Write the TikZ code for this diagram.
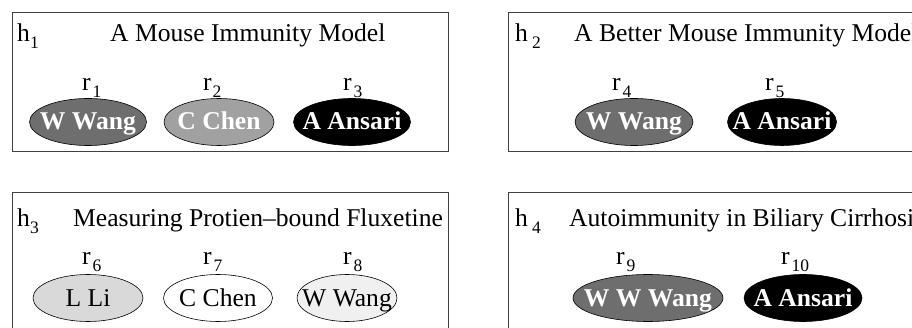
\documentclass[tikz,border=0pt]{standalone}
\usepackage{fontspec}
\setmainfont{Liberation Serif}
\usetikzlibrary{shapes.geometric}

\definecolor{dkgray}{gray}{0.43}
\definecolor{mdgray}{gray}{0.63}
\definecolor{ltgray}{gray}{0.85}
\definecolor{xltgray}{gray}{0.94}

% lowered index in the text font
\newcommand{\idx}[2][0pt]{\kern#1\raisebox{-0.24em}{\fontsize{17.5}{18}\selectfont #2}}

\begin{document}
\begin{tikzpicture}[x=1pt, y=-1pt, font=\fontsize{25.6}{30}\selectfont,
    hbox/.style={draw=black!75, line width=0.8pt},
    tag/.style={anchor=base west, inner sep=0pt},
    author/.style={ellipse, draw=black, line width=0.6pt, minimum height=47pt, inner sep=0pt},
    wname/.style={anchor=base, inner sep=0pt, text=white, font=\fontsize{25.6}{30}\selectfont\bfseries},
    bname/.style={anchor=base, inner sep=0pt, text=black}]
  \clip (0,0) rectangle (912,328);
  \fill[white] (0,0) rectangle (912,328);

  % the four boxes
  \draw[hbox] (12,12) rectangle (448,151);
  \draw[hbox] (508,12) rectangle (940,151);
  \draw[hbox] (12,192) rectangle (448,340);
  \draw[hbox] (508,192) rectangle (940,340);

  % h1
  \node[tag] (h1) at (17,42) {h\idx{1}};
  \node[tag] (t1) at (110,42) {A Mouse Immunity Model};
  \node[tag] (r1) at (82,91) {r\idx[2pt]{1}};
  \node[tag] (r2) at (203,91) {r\idx[1pt]{2}};
  \node[tag] (r3) at (343,91) {r\idx[2pt]{3}};
  \node[author, fill=dkgray, minimum width=117pt] (a1) at (88,122) {};
  \node[author, fill=mdgray, minimum width=110pt] (a2) at (219,122) {};
  \node[author, fill=black, minimum width=117pt] (a3) at (352,122) {};
  \node[wname] (n1) at ([yshift=-8pt]a1.center) {W Wang};
  \node[wname] (n2) at ([yshift=-8pt]a2.center) {C Chen};
  \node[wname] (n3) at ([yshift=-8pt]a3.center) {A Ansari};

  % h2
  \node[tag] (h2) at (515,42) {h\idx[4pt]{2}};
  \node[tag] (t2) at (574,42) {A Better Mouse Immunity Model};
  \node[tag] (r4) at (612,91) {r\idx[2pt]{4}};
  \node[tag] (r5) at (765,91) {r\idx[2pt]{5}};
  \node[author, fill=dkgray, minimum width=118pt] (a4) at (634,122) {};
  \node[author, fill=black, minimum width=109pt] (a5) at (782,122) {};
  \node[wname] (n4) at ([yshift=-8pt]a4.center) {W Wang};
  \node[wname] (n5) at ([yshift=-8pt]a5.center) {A Ansari};

  % h3
  \node[tag] (h3) at (17,227) {h\idx{3}};
  \node[tag] (t3) at (73,227) {Measuring Protien--bound Fluxetine};
  \node[tag] (r6) at (82,265) {r\idx[2pt]{6}};
  \node[tag] (r7) at (203,265) {r\idx[2pt]{7}};
  \node[tag] (r8) at (343,265) {r\idx[2pt]{8}};
  \node[author, fill=ltgray, minimum width=110pt] (a6) at (88,298) {};
  \node[author, fill=white, minimum width=109pt] (a7) at (218,298) {};
  \node[author, fill=xltgray, minimum width=100pt] (a8) at (347,298) {};
  \node[bname] (n6) at ([yshift=-8pt]a6.center) {L Li};
  \node[bname] (n7) at ([yshift=-8pt]a7.center) {C Chen};
  \node[bname] (n8) at ([yshift=-8pt]a8.center) {W Wang};

  % h4
  \node[tag] (h4) at (515,227) {h\idx[4pt]{4}};
  \node[tag] (t4) at (569,227) {Autoimmunity in Biliary Cirrhosis};
  \node[tag] (r9) at (616,265) {r\idx[2pt]{9}};
  \node[tag] (r10) at (781,265) {r\idx[2pt]{10}};
  \node[author, fill=dkgray, minimum width=150pt] (a9) at (648,298) {};
  \node[author, fill=black, minimum width=118pt] (a10) at (803,298) {};
  \node[wname] (n9) at ([yshift=-8pt]a9.center) {W W Wang};
  \node[wname] (n10) at ([yshift=-8pt]a10.center) {A Ansari};
\end{tikzpicture}
\end{document}
